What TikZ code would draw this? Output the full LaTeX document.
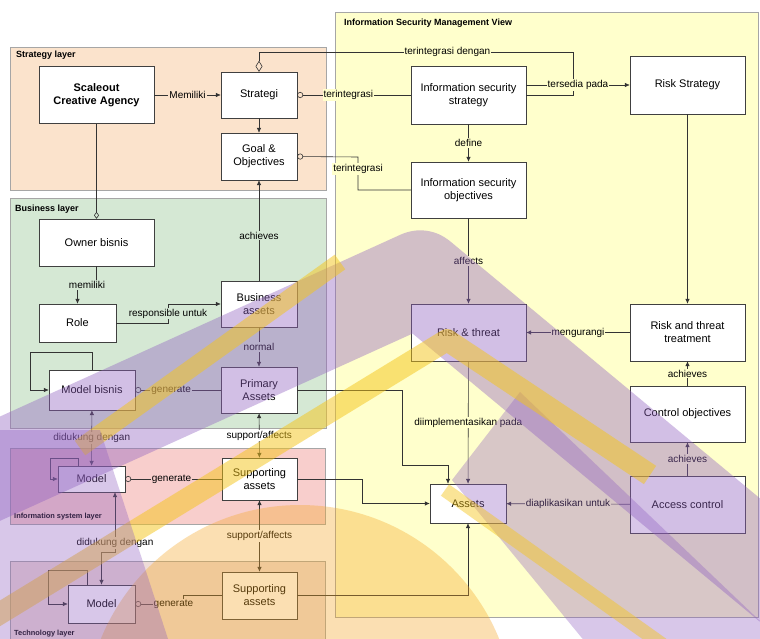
\documentclass[tikz,border=0pt]{standalone}
\usepackage{fontspec}
\setmainfont{Liberation Sans}
\usepackage{xcolor}
\usetikzlibrary{arrows.meta}

\definecolor{ismfill}{HTML}{FFFFCC}
\definecolor{stratfill}{HTML}{FBE3CC}
\definecolor{busfill}{HTML}{D5E8D4}
\definecolor{isfill}{HTML}{F8CECC}
\definecolor{techfill}{HTML}{EEDCD8}
\definecolor{wmpurple}{HTML}{9060C0}
\definecolor{wmyellow}{HTML}{F5C518}
\definecolor{wmorange}{HTML}{F5A623}

\begin{document}
\begin{tikzpicture}[x=1pt, y=-1pt,
    box/.style={draw=black!75, fill=white, align=center, inner sep=2pt, font=\fontsize{11}{13}\selectfont},
    lbl/.style={fill=ismfill, inner sep=1pt, font=\fontsize{10}{11}\selectfont},
    layer/.style={draw=black!35, line width=0.6pt},
    ttl/.style={inner sep=0pt, font=\bfseries\fontsize{9}{10}\selectfont},
    conn/.style={draw=black!80, line width=0.6pt, -{Latex[length=5pt,width=4.5pt]}},
    both/.style={draw=black!80, line width=0.6pt, {Latex[length=5pt,width=4.5pt]}-{Latex[length=5pt,width=4.5pt]}},
    circ/.style={draw=black!80, line width=0.6pt, {Circle[open,length=6pt,width=6pt]}-},
    dmd/.style={draw=black!80, line width=0.6pt, {Diamond[open,length=11pt,width=7pt]}-},
    wm/.style={opacity=0.4, line join=round}]

    \useasboundingbox (0,0) rectangle (760,638);
    \fill[white] (0,0) rectangle (760,638);

    % ===== Layers =====
    \filldraw[layer, fill=ismfill] (335,12) rectangle (758,617);
    \node[ttl, anchor=west] (ismtitle) at (344,23) {Information Security Management View};

    \filldraw[layer, fill=stratfill] (10,47) rectangle (326,190);
    \node[ttl, anchor=north west] (strattitle) at (16,51) {Strategy layer};

    \filldraw[layer, fill=busfill] (10,198) rectangle (326,428);
    \node[ttl, anchor=north west] (bustitle) at (15,205) {Business layer};

    \filldraw[layer, fill=isfill] (10,448) rectangle (325,524);
    \node[ttl, anchor=south west, font=\bfseries\fontsize{7.4}{8}\selectfont] (istitle) at (14,520) {Information system layer};

    \filldraw[layer, fill=techfill] (10,561) rectangle (325,650);
    \node[ttl, anchor=south west, font=\bfseries\fontsize{7.4}{8}\selectfont] (techtitle) at (14,637) {Technology layer};

    % ===== Enterprise side =====
    \node[box, minimum width=115pt, minimum height=57pt, font=\bfseries\fontsize{11}{13}\selectfont] (agency) at (96.5,95) {Scaleout\\Creative Agency};
    \node[box, minimum width=76pt, minimum height=46pt] (strategi) at (259,95) {Strategi};
    \node[box, minimum width=76pt, minimum height=47pt] (goal) at (259,156.5) {Goal \&\\Objectives};
    \node[box, minimum width=115pt, minimum height=47pt] (owner) at (96.5,242.5) {Owner bisnis};
    \node[box, minimum width=77pt, minimum height=38pt] (role) at (77.5,323) {Role};
    \node[box, minimum width=76pt, minimum height=46pt] (busassets) at (259,304) {Business\\assets};
    \node[box, minimum width=86pt, minimum height=40pt] (modelbis) at (92,390) {Model bisnis};
    \node[box, minimum width=76pt, minimum height=46pt] (primary) at (259,390) {Primary\\Assets};
    \node[box, minimum width=67pt, minimum height=26pt] (modelis) at (91.5,479) {Model};
    \node[box, minimum width=75pt, minimum height=42pt] (suppis) at (259.5,479) {Supporting\\assets};
    \node[box, minimum width=67pt, minimum height=38pt] (modeltech) at (101.5,604) {Model};
    \node[box, minimum width=75pt, minimum height=47pt] (supptech) at (259.5,595.5) {Supporting\\assets};

    % ===== Security side =====
    \node[box, minimum width=115pt, minimum height=58pt] (iss) at (468.5,95) {Information security\\strategy};
    \node[box, minimum width=115pt, minimum height=58pt] (riskstrat) at (687.5,85) {Risk Strategy};
    \node[box, minimum width=115pt, minimum height=56pt] (iso) at (468.5,190) {Information security\\objectives};
    \node[box, minimum width=115pt, minimum height=57pt] (risk) at (468.5,332.5) {Risk \& threat};
    \node[box, minimum width=115pt, minimum height=57pt] (treat) at (687.5,332.5) {Risk and threat\\treatment};
    \node[box, minimum width=115pt, minimum height=56pt] (ctrl) at (687.5,414) {Control objectives};
    \node[box, minimum width=76pt, minimum height=39pt] (assets) at (468,503.5) {Assets};
    \node[box, minimum width=115pt, minimum height=57pt] (access) at (687.5,504.5) {Access control};

    % bend points
    \coordinate (topbend) at (573,52);
    \coordinate (goalbend) at (358,157);
    \coordinate (ow1) at (96.5,285);
    \coordinate (rb1) at (168,323);
    \coordinate (mb1) at (30,352);
    \coordinate (mi1) at (50,458);
    \coordinate (mt1) at (48,570);
    \coordinate (mm1) at (115,552);
    \coordinate (st1) at (183,595.5);
    \coordinate (pa1) at (402,390);
    \coordinate (pa2) at (448,465);
    \coordinate (sa1) at (362,479);

    % ===== Connectors: strategy =====
    \draw[conn] (agency.east) -- node[lbl, fill=stratfill] {Memiliki} (strategi.west);
    \draw[conn] (strategi) -- (goal);
    \draw[circ] (strategi.east) -- node[lbl, pos=0.45] {terintegrasi} (iss.west);
    \draw[dmd] (strategi.north) |- node[lbl, pos=0.8] {terintegrasi dengan} (topbend) |- (iss.east);
    \draw[circ] (goal.east) -- (goalbend) |- node[lbl, pos=0.18] {terintegrasi} (iso.west);
    \draw[conn] (iss.east |- riskstrat.west) -- node[lbl] {tersedia pada} (riskstrat.west);
    \draw[conn] (iss) -- node[lbl] {define} (iso);
    \draw[conn] (iso) -- node[lbl] {affects} (risk);
    \draw[conn] (riskstrat) -- (treat);
    \draw[conn] (treat) -- node[lbl] {mengurangi} (risk);
    \draw[conn] (ctrl) -- node[lbl] {achieves} (treat);
    \draw[conn] (access) -- node[lbl] {achieves} (ctrl);
    \draw[conn] (access) -- node[lbl] {diaplikasikan untuk} (assets);
    \draw[conn] (risk) -- node[lbl] {diimplementasikan pada} (assets);

    % ===== Connectors: business =====
    \draw[dmd, {Diamond[open,length=7pt,width=5pt]}-] (owner.north) -- (agency.south);
    \draw[conn] (owner.south) -- (ow1) -| node[lbl, fill=busfill, pos=0.25] {memiliki} (role.north);
    \draw[conn] (role.east) -- (rb1) |- node[lbl, fill=busfill, pos=0.25] {responsible untuk} (busassets.west);
    \draw[conn] (busassets) -- node[lbl, fill=busfill, pos=0.45] {achieves} (goal);
    \draw[conn] (busassets) -- node[lbl, fill=busfill] {normal} (primary);
    \draw[circ] (modelbis.east) -- node[lbl, fill=busfill, pos=0.42] {generate} (primary.west);
    \draw[conn] (modelbis.north) |- (mb1) |- (modelbis.west);
    \draw[both] (modelbis) -- node[lbl, fill=white] {didukung dengan} (modelis);
    \draw[both] (primary) -- node[lbl, fill=white] {support/affects} (suppis);
    \draw[conn] (primary.east) -- (pa1) |- (pa2) -- (pa2 |- assets.north);

    % ===== Connectors: information system & technology =====
    \draw[circ] (modelis.east) -- node[lbl, fill=isfill, pos=0.48] {generate} (suppis.west);
    \draw[conn] ([xshift=-13.5pt]modelis.north) |- (mi1) |- (modelis.west);
    \draw[both] (suppis) -- node[lbl, fill=white] {support/affects} (supptech);
    \draw[conn] (suppis.east) -- (sa1) |- (assets.west);
    \draw[both] (modelis.south -| mm1) -- node[lbl, fill=white, pos=0.85] {didukung dengan} (mm1) -| (modeltech.north);
    \draw[conn] ([xshift=-14.5pt]modeltech.north) |- (mt1) |- (modeltech.west);
    \draw[circ] (modeltech.east) -| node[lbl, fill=techfill, pos=0.4] {generate} (st1) -- (supptech.west);
    \draw[conn] (supptech.east) -| (assets.south);

    % ===== Watermark overlay =====
    \draw[wm, wmpurple, line width=95pt] (-80,505) -- (420,278) -- (790,585);
    \fill[wm, wmpurple, opacity=0.35] (520,392) -- (780,640) -- (600,660) -- (452,480) -- cycle;
    \fill[wm, wmorange, opacity=0.35] (300,720) circle (215pt);
    \draw[wm, wmyellow, opacity=0.5, line width=22pt] (-60,650) -- (447,340) -- (650,475);
    \draw[wm, wmyellow, opacity=0.5, line width=18pt] (80,448) -- (340,262);
    \draw[wm, wmyellow, opacity=0.45, line width=14pt] (445,490) -- (670,650);
    \fill[wm, wmpurple, opacity=0.35] (-10,430) -- (100,430) -- (170,645) -- (-10,645) -- cycle;
\end{tikzpicture}
\end{document}
